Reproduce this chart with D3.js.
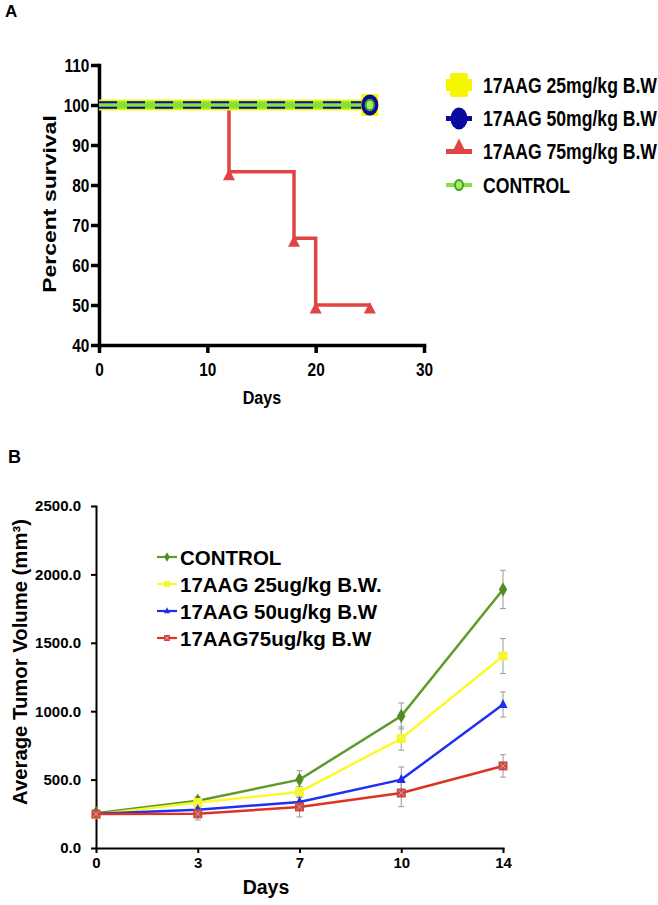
<!DOCTYPE html>
<html><head><meta charset="utf-8">
<script src="https://cdn.jsdelivr.net/npm/d3@7/dist/d3.min.js"></script>
<style>
body{margin:0;background:#fff}
svg{display:block}
text{font-family:'Liberation Sans',Arial,Helvetica,sans-serif;font-weight:bold;fill:#000}
</style>
</head><body>
<svg id="c" width="658" height="905"></svg>
<script>
// ---------- Panel A data (survival) ----------
const survTicksY = [40, 50, 60, 70, 80, 90, 100, 110];
const survTicksX = [0, 10, 20, 30];
const survLabels = ["17AAG 25mg/kg B.W", "17AAG 50mg/kg B.W", "17AAG 75mg/kg B.W", "CONTROL"];
const days25 = [0, 25];
const surv25 = [100, 100];
const days50 = [0, 25];
const surv50 = [100, 100];
const daysCtrl = [0, 25];
const survCtrl = [100, 100];
const days75 = [0, 12, 18, 20, 25];
const surv75 = [100, 83.3, 66.7, 50, 50];

// ---------- Panel B data (tumor volume) ----------
const tumorDays = ["0", "3", "7", "10", "14"];
const tumorTicksY = [0, 500, 1000, 1500, 2000, 2500];
const tumorLabels = ["CONTROL", "17AAG 25ug/kg B.W.", "17AAG 50ug/kg B.W", "17AAG75ug/kg B.W"];
const volCtrl = [255, 345, 500, 965, 1890];
const errCtrl = [10, 30, 65, 95, 140];
const vol25 = [245, 332, 410, 800, 1403];
const err25 = [10, 25, 40, 85, 128];
const vol50 = [250, 280, 337, 500, 1049];
const err50 = [10, 20, 35, 92, 92];
const vol75 = [248, 250, 300, 402, 600];
const err75 = [10, 45, 73, 100, 82];

const svg = d3.select("#c");

function label(g, s, x, y, size, sx, anchor, rot) {
  return g.append("text")
    .attr("transform", `translate(${x},${y}) scale(${sx},1)` + (rot ? ` rotate(${rot})` : ""))
    .attr("text-anchor", anchor)
    .attr("font-size", size)
    .text(s);
}

// ================= PANEL A =================
const gA = svg.append("g");
const SX = 0.81;
const xA = d3.scaleLinear().domain([0, 30]).range([99, 424]);
const yA = d3.scaleLinear().domain([40, 110]).range([345, 65]);

const cYellow = "#F6F600", cNavy = "#0A0AA0", cRed = "#E04444",
      cGreenL = "#84E23C", cGreenD = "#3DA622", cGreenF = "#A6EC62";

const axAy = gA.append("g").attr("transform", "translate(99,0)")
  .call(d3.axisLeft(yA).tickValues(survTicksY).tickSize(8).tickSizeOuter(0).tickPadding(2));
const axAx = gA.append("g").attr("transform", "translate(0,345)")
  .call(d3.axisBottom(xA).tickValues(survTicksX).tickSize(8).tickSizeOuter(0).tickPadding(10));
[axAy, axAx].forEach(a => {
  a.attr("font-family", null).attr("font-size", null);
  a.select(".domain").attr("stroke", "#000").attr("stroke-width", 3.5).attr("stroke-linecap", "square");
  a.selectAll(".tick line").attr("stroke", "#000").attr("stroke-width", 3.5);
  a.selectAll(".tick text").attr("font-size", 19).attr("transform", `scale(${SX},1)`);
});
axAy.selectAll(".tick text").attr("x", -12);

label(gA, "A", 5, 17, 17, 1, "start");
label(gA, "Percent survival", 56, 204, 23, SX, "middle", -90);
label(gA, "Days", 262, 404, 19, 0.85, "middle");

const lineA = d3.line().x(d => xA(d[0])).y(d => yA(d[1]));
const lineStep = d3.line().x(d => xA(d[0])).y(d => yA(d[1])).curve(d3.curveStepAfter);

const pts75 = days75.map((d, i) => [d, surv75[i]]);
const pts25 = days25.map((d, i) => [d, surv25[i]]);
const pts50 = days50.map((d, i) => [d, surv50[i]]);
const ptsC = daysCtrl.map((d, i) => [d, survCtrl[i]]);

// red step
gA.append("path").attr("d", lineStep(pts75)).attr("fill", "none")
  .attr("stroke", cRed).attr("stroke-width", 3.5).attr("stroke-linejoin", "miter");

// overlapping 100% lines
gA.append("path").attr("d", lineA(pts25)).attr("fill", "none").attr("stroke", cYellow).attr("stroke-width", 11);
gA.append("path").attr("d", lineA(ptsC)).attr("fill", "none").attr("stroke", cGreenL).attr("stroke-width", 7.5);
[-2.7, 2.7].forEach(off => {
  gA.append("path").attr("d", lineA(pts50)).attr("transform", `translate(0,${off})`)
    .attr("fill", "none").attr("stroke", cNavy).attr("stroke-width", 2).attr("stroke-dasharray", "18 10");
});

// red triangles
function triPath(cx, cy, hw, top, bot) {
  return `M${cx},${cy + top}L${cx + hw},${cy + bot}L${cx - hw},${cy + bot}Z`;
}
gA.selectAll(".tri").data(pts75.slice(1)).enter().append("path")
  .attr("d", d => triPath(xA(d[0]), yA(d[1]), 6, -3, 8.5)).attr("fill", cRed);

// end markers
const l25 = pts25[pts25.length - 1], l50 = pts50[pts50.length - 1], lC = ptsC[ptsC.length - 1];
gA.append("rect").attr("x", xA(l25[0]) - 8.5).attr("y", yA(l25[1]) - 11).attr("width", 17).attr("height", 22).attr("fill", cYellow);
gA.append("ellipse").attr("cx", xA(l50[0])).attr("cy", yA(l50[1])).attr("rx", 8.5).attr("ry", 10.5).attr("fill", cNavy);
gA.append("ellipse").attr("cx", xA(lC[0])).attr("cy", yA(lC[1])).attr("rx", 4.2).attr("ry", 5.2)
  .attr("fill", cGreenF).attr("stroke", cGreenD).attr("stroke-width", 2);

// legend A
const legAy = [85, 118.5, 151.5, 185];
const legA = gA.append("g");
const lx0 = 446, lx1 = 472, lxc = 459;
// yellow
legA.append("line").attr("x1", lx0).attr("x2", lx1).attr("y1", legAy[0]).attr("y2", legAy[0]).attr("stroke", cYellow).attr("stroke-width", 12);
legA.append("rect").attr("x", lxc - 9).attr("y", legAy[0] - 12).attr("width", 18).attr("height", 24).attr("fill", cYellow).attr("rx", 2);
// navy
legA.append("line").attr("x1", lx0).attr("x2", lx1).attr("y1", legAy[1]).attr("y2", legAy[1]).attr("stroke", cNavy).attr("stroke-width", 5);
legA.append("ellipse").attr("cx", lxc).attr("cy", legAy[1]).attr("rx", 8.5).attr("ry", 11).attr("fill", cNavy);
// red
legA.append("line").attr("x1", lx0).attr("x2", lx1).attr("y1", legAy[2]).attr("y2", legAy[2]).attr("stroke", cRed).attr("stroke-width", 5);
legA.append("path").attr("d", triPath(lxc, legAy[2], 7, -13, 1)).attr("fill", cRed);
// green
legA.append("line").attr("x1", lx0).attr("x2", lx1).attr("y1", legAy[3]).attr("y2", legAy[3]).attr("stroke", cGreenL).attr("stroke-width", 4);
legA.append("ellipse").attr("cx", lxc).attr("cy", legAy[3]).attr("rx", 4).attr("ry", 5).attr("fill", cGreenF).attr("stroke", cGreenD).attr("stroke-width", 2);
survLabels.forEach((s, i) => label(legA, s, 483, legAy[i] + 7.5, 22, 0.8, "start"));

// ================= PANEL B =================
const gB = svg.append("g");
const xB = d3.scalePoint().domain(tumorDays).range([96, 503]);
const yB = d3.scaleLinear().domain([0, 2500]).range([848, 506]);

const axBy = gB.append("g").attr("transform", "translate(96,0)")
  .call(d3.axisLeft(yB).tickValues(tumorTicksY).tickSize(5).tickSizeOuter(0).tickPadding(10).tickFormat(d3.format(".1f")));
const axBx = gB.append("g").attr("transform", "translate(0,848)")
  .call(d3.axisBottom(xB).tickSize(5).tickSizeOuter(0).tickPadding(4));
[axBy, axBx].forEach(a => {
  a.attr("font-family", null).attr("font-size", null);
  a.select(".domain").attr("stroke", "#000").attr("stroke-width", 2).attr("stroke-linecap", "square");
  a.selectAll(".tick line").attr("stroke", "#000").attr("stroke-width", 2);
  a.selectAll(".tick text").attr("font-size", 15);
});

label(gB, "B", 8, 463, 18, 1, "start");
label(gB, "Average Tumor Volume (mm³)", 27, 662, 20.3, 1, "middle", -90);
label(gB, "Days", 266, 894, 19.5, 1, "middle");

const seriesB = [
  { name: tumorLabels[0], vals: volCtrl, errs: errCtrl, color: "#5E9A2E", mfill: "#4E8E22", sym: "diamond" },
  { name: tumorLabels[1], vals: vol25, errs: err25, color: "#FAFA2A", mfill: "#F6F630", sym: "square" },
  { name: tumorLabels[2], vals: vol50, errs: err50, color: "#2030F0", mfill: "#1E2EEE", sym: "triangle" },
  { name: tumorLabels[3], vals: vol75, errs: err75, color: "#DC3322", mfill: "#C84A44", sym: "xsquare" }
];

function marker(g, sym, cx, cy, s, color) {
  if (sym === "diamond") {
    g.append("path").attr("d", d3.symbol(d3.symbolDiamond, s * s * 0.75)()).attr("transform", `translate(${cx},${cy})`).attr("fill", color);
  } else if (sym === "square") {
    g.append("rect").attr("x", cx - s / 2).attr("y", cy - s / 2).attr("width", s).attr("height", s).attr("fill", color);
  } else if (sym === "triangle") {
    g.append("path").attr("d", `M${cx},${cy - s * 0.62}L${cx + s * 0.5},${cy + s * 0.38}L${cx - s * 0.5},${cy + s * 0.38}Z`).attr("fill", color);
  } else {
    g.append("rect").attr("x", cx - s / 2).attr("y", cy - s / 2).attr("width", s).attr("height", s).attr("fill", color);
    const h = s * 0.3;
    g.append("path").attr("d", `M${cx - h},${cy - h}L${cx + h},${cy + h}M${cx + h},${cy - h}L${cx - h},${cy + h}`)
      .attr("stroke", "#E99A90").attr("stroke-width", 1);
  }
}

// error bars
const gErr = gB.append("g").attr("stroke", "#999").attr("stroke-width", 1);
seriesB.forEach(s => {
  tumorDays.forEach((d, i) => {
    const x = xB(d), y0 = yB(s.vals[i] - s.errs[i]), y1 = yB(s.vals[i] + s.errs[i]);
    gErr.append("line").attr("x1", x).attr("x2", x).attr("y1", y0).attr("y2", y1);
    gErr.append("line").attr("x1", x - 3).attr("x2", x + 3).attr("y1", y0).attr("y2", y0);
    gErr.append("line").attr("x1", x - 3).attr("x2", x + 3).attr("y1", y1).attr("y2", y1);
  });
});

const lineB = d3.line().x(d => xB(d[0])).y(d => yB(d[1]));
seriesB.forEach(s => {
  const pts = tumorDays.map((d, i) => [d, s.vals[i]]);
  gB.append("path").attr("d", lineB(pts)).attr("fill", "none").attr("stroke", s.color).attr("stroke-width", 2.5);
  const mg = gB.append("g");
  pts.forEach(p => marker(mg, s.sym, xB(p[0]), yB(p[1]), 9, s.mfill));
});

// legend B
const legBy = [557, 584, 611, 638];
const legB = gB.append("g");
seriesB.forEach((s, i) => {
  legB.append("line").attr("x1", 157).attr("x2", 177).attr("y1", legBy[i]).attr("y2", legBy[i]).attr("stroke", s.color).attr("stroke-width", 2.2);
  marker(legB, s.sym, 167, legBy[i], 6, s.mfill);
  label(legB, s.name, 180, legBy[i] + 7.5, 20.5, 1, "start");
});
</script>
</body></html>
